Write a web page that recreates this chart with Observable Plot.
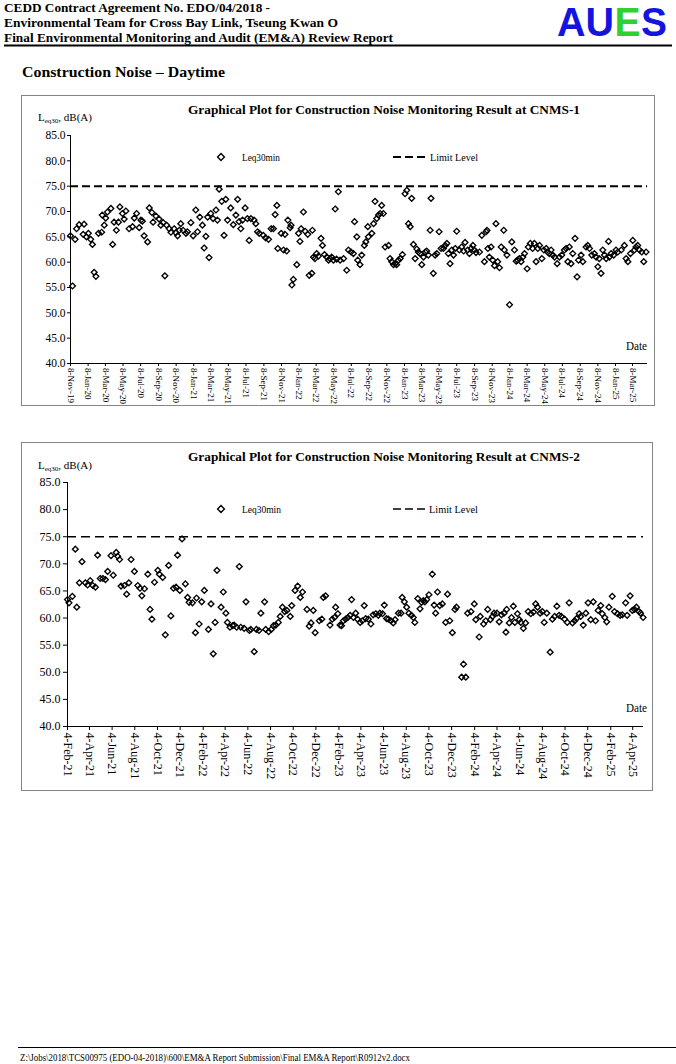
<!DOCTYPE html>
<html><head><meta charset="utf-8">
<script src="https://cdn.jsdelivr.net/npm/d3@7"></script>
<script src="https://cdn.jsdelivr.net/npm/@observablehq/plot@0.6"></script>
<style>
html,body{margin:0;padding:0;background:#fff;}
#page{position:relative;width:676px;height:1064px;overflow:hidden;background:#fff;}
.chart{position:absolute;}
#overlay{position:absolute;left:0;top:0;pointer-events:none;}
</style></head>
<body><div id="page">
<div id="c1" class="chart" style="left:21px;top:95px;"></div>
<div id="c2" class="chart" style="left:21px;top:442px;"></div>
<svg id="overlay" width="676" height="1064" font-family="'Liberation Serif','Times New Roman',serif">
  <text x="4" y="12" font-size="13" font-weight="bold" textLength="266" lengthAdjust="spacingAndGlyphs">CEDD Contract Agreement No. EDO/04/2018 -</text>
  <text x="4" y="27" font-size="13" font-weight="bold" textLength="334" lengthAdjust="spacingAndGlyphs">Environmental Team for Cross Bay Link, Tseung Kwan O</text>
  <text x="4" y="42" font-size="13" font-weight="bold" textLength="389" lengthAdjust="spacingAndGlyphs">Final Environmental Monitoring and Audit (EM&amp;A) Review Report</text>
  <g font-family="'Liberation Sans',Arial,sans-serif" font-size="41" font-weight="bold">
    <text x="557" y="36" fill="#1414e0" textLength="57" lengthAdjust="spacingAndGlyphs">AU</text>
    <text x="614.5" y="36" fill="#2ed12e" textLength="26" lengthAdjust="spacingAndGlyphs">E</text>
    <text x="641" y="36" fill="#1414e0" textLength="26" lengthAdjust="spacingAndGlyphs">S</text>
  </g>
  <line x1="4" x2="672" y1="45.5" y2="45.5" stroke="#000" stroke-width="2"/>
  <text x="22" y="77" font-size="14.5" font-weight="bold" textLength="203" lengthAdjust="spacingAndGlyphs">Construction Noise – Daytime</text>

  <rect x="21.5" y="95.5" width="633" height="310" fill="none" stroke="#858585" stroke-width="1"/>
  <text x="188" y="114" font-size="12.5" font-weight="bold" textLength="392" lengthAdjust="spacingAndGlyphs">Graphical Plot for Construction Noise Monitoring Result at CNMS-1</text>
  <text x="38" y="121" font-size="11">L<tspan font-size="7" dy="2">eq30</tspan><tspan dy="-2">, dB(A)</tspan></text>
  <path d="M221,153.6 L224.4,157 L221,160.4 L217.6,157Z" fill="none" stroke="#000" stroke-width="1.4"/>
  <text x="242" y="160.5" font-size="10.5" textLength="38" lengthAdjust="spacingAndGlyphs">Leq30min</text>
  <line x1="393" x2="428" y1="157" y2="157" stroke="#000" stroke-width="2" stroke-dasharray="8,4"/>
  <text x="430" y="160.5" font-size="10.5" textLength="48" lengthAdjust="spacingAndGlyphs">Limit Level</text>
  <text x="626" y="350" font-size="11.5" textLength="21" lengthAdjust="spacingAndGlyphs">Date</text>

  <rect x="21.5" y="442.5" width="631" height="348" fill="none" stroke="#858585" stroke-width="1"/>
  <text x="188" y="461" font-size="12.5" font-weight="bold" textLength="392" lengthAdjust="spacingAndGlyphs">Graphical Plot for Construction Noise Monitoring Result at CNMS-2</text>
  <text x="38" y="469" font-size="11">L<tspan font-size="7" dy="2">eq30</tspan><tspan dy="-2">, dB(A)</tspan></text>
  <path d="M221,505.6 L224.4,509 L221,512.4 L217.6,509Z" fill="none" stroke="#000" stroke-width="1.4"/>
  <text x="242" y="512.5" font-size="10.5" textLength="39" lengthAdjust="spacingAndGlyphs">Leq30min</text>
  <line x1="393" x2="427" y1="509" y2="509" stroke="#000" stroke-width="1.5" stroke-dasharray="8,4"/>
  <text x="429" y="512.5" font-size="10.5" textLength="49" lengthAdjust="spacingAndGlyphs">Limit Level</text>
  <text x="626" y="712" font-size="11.5" textLength="21" lengthAdjust="spacingAndGlyphs">Date</text>

  <line x1="18" x2="676" y1="1047.5" y2="1047.5" stroke="#000" stroke-width="1.2"/>
  <text x="20" y="1061" font-size="10" textLength="390" lengthAdjust="spacingAndGlyphs">Z:\Jobs\2018\TCS00975 (EDO-04-2018)\600\EM&amp;A Report Submission\Final EM&amp;A Report\R0912v2.docx</text>
</svg>
</div>
<script>
// ---------- data ----------
const limitLevel = 75;
const yTicks = [40, 45, 50, 55, 60, 65, 70, 75, 80, 85];

const cnms1Ticks = ["2019-11-08","2020-01-08","2020-03-08","2020-05-08","2020-07-08","2020-09-08","2020-11-08",
  "2021-01-08","2021-03-08","2021-05-08","2021-07-08","2021-09-08","2021-11-08",
  "2022-01-08","2022-03-08","2022-05-08","2022-07-08","2022-09-08","2022-11-08",
  "2023-01-08","2023-03-08","2023-05-08","2023-07-08","2023-09-08","2023-11-08",
  "2024-01-08","2024-03-08","2024-05-08","2024-07-08","2024-09-08","2024-11-08",
  "2025-01-08","2025-03-08"];
const cnms1Domain = ["2019-11-08", "2025-04-29"];

const cnms2Ticks = ["2021-02-04","2021-04-04","2021-06-04","2021-08-04","2021-10-04","2021-12-04",
  "2022-02-04","2022-04-04","2022-06-04","2022-08-04","2022-10-04","2022-12-04",
  "2023-02-04","2023-04-04","2023-06-04","2023-08-04","2023-10-04","2023-12-04",
  "2024-02-04","2024-04-04","2024-06-04","2024-08-04","2024-10-04","2024-12-04",
  "2025-02-04","2025-04-04"];
const cnms2Domain = ["2021-02-04", "2025-05-03"];

// CNMS-1 Leq30min readings [date, dB(A)]
const cnms1Readings = [
["2019-11-08",65.2],["2019-11-15",55.3],["2019-11-24",64.5],["2019-11-29",66.6],["2019-12-08",67.4],["2019-12-22",65.5],["2019-12-25",67.5],
["2020-01-02",65.0],["2020-01-09",65.7],["2020-01-17",64.5],["2020-01-23",63.5],["2020-01-29",58.0],["2020-02-04",57.2],["2020-02-13",65.7],
["2020-02-24",65.9],["2020-02-26",69.3],["2020-03-04",67.3],["2020-03-09",68.7],["2020-03-15",69.9],["2020-03-27",70.6],["2020-04-02",63.5],
["2020-04-07",67.9],["2020-04-15",66.3],["2020-04-22",67.9],["2020-04-27",70.9],["2020-05-06",69.6],["2020-05-12",68.5],["2020-05-18",70.1],
["2020-05-29",66.6],["2020-06-10",67.0],["2020-06-16",68.7],["2020-06-24",69.6],["2020-07-03",66.8],["2020-07-09",68.3],["2020-07-14",68.1],
["2020-07-20",65.2],["2020-08-01",64.0],["2020-08-07",70.7],["2020-08-16",69.8],["2020-08-20",67.9],["2020-08-30",69.1],["2020-09-10",68.5],
["2020-09-16",67.3],["2020-09-24",67.8],["2020-09-30",57.3],["2020-10-06",67.3],["2020-10-15",66.6],["2020-10-21",65.9],["2020-11-01",66.6],
["2020-11-07",65.8],["2020-11-13",65.2],["2020-11-19",66.3],["2020-11-24",67.6],["2020-12-02",66.3],["2020-12-12",65.7],["2020-12-17",66.0],
["2020-12-29",67.8],["2021-01-06",65.2],["2021-01-15",70.3],["2021-01-21",66.0],["2021-01-29",68.9],["2021-02-07",67.3],["2021-02-13",62.8],
["2021-02-19",65.1],["2021-02-25",68.9],["2021-03-02",60.9],["2021-03-08",69.6],["2021-03-16",68.6],["2021-03-26",70.3],["2021-03-31",68.3],
["2021-04-06",74.4],["2021-04-15",72.0],["2021-04-23",65.3],["2021-04-29",72.4],["2021-05-05",68.3],["2021-05-16",70.7],["2021-05-25",67.4],
["2021-06-03",69.3],["2021-06-09",72.4],["2021-06-14",68.0],["2021-06-20",66.6],["2021-06-26",68.3],["2021-07-05",70.7],["2021-07-13",68.6],
["2021-07-19",64.3],["2021-07-25",68.6],["2021-08-05",68.3],["2021-08-11",67.6],["2021-08-17",66.0],["2021-08-23",65.7],
["2021-09-06",65.3],["2021-09-14",64.8],["2021-09-24",64.5],["2021-10-03",66.6],["2021-10-11",66.6],["2021-10-17",69.4],["2021-10-23",71.2],
["2021-10-26",62.7],["2021-11-07",65.7],["2021-11-15",62.4],["2021-11-20",65.5],["2021-11-26",62.2],["2021-11-30",68.3],["2021-12-08",66.8],
["2021-12-11",67.3],["2021-12-14",55.5],["2021-12-19",56.6],["2021-12-31",59.5],["2022-01-06",65.7],["2022-01-11",64.1],["2022-01-15",66.6],
["2022-01-23",69.9],["2022-01-29",66.1],["2022-02-07",65.5],["2022-02-12",57.4],["2022-02-21",57.8],["2022-02-23",66.3],["2022-02-27",61.0],
["2022-03-04",60.7],["2022-03-10",61.7],["2022-03-16",61.2],["2022-03-25",64.7],["2022-03-30",63.3],["2022-04-06",61.5],["2022-04-14",61.0],
["2022-04-20",60.4],["2022-04-25",60.7],["2022-05-01",61.0],["2022-05-07",60.4],["2022-05-13",70.5],["2022-05-18",60.6],["2022-05-24",73.9],
["2022-05-30",60.4],["2022-06-11",60.7],["2022-06-22",58.4],["2022-06-28",62.4],["2022-07-07",62.0],["2022-07-15",61.7],["2022-07-19",68.0],
["2022-07-27",65.0],["2022-07-30",60.4],["2022-08-07",59.5],["2022-08-13",61.4],["2022-08-22",63.3],["2022-08-27",64.0],["2022-09-03",67.0],
["2022-09-05",65.0],["2022-09-17",65.7],["2022-09-23",67.6],["2022-09-28",72.0],["2022-10-04",68.6],["2022-10-10",69.3],["2022-10-16",69.6],
["2022-10-21",71.2],["2022-10-27",69.6],["2022-11-02",63.0],["2022-11-14",63.3],["2022-11-19",60.7],["2022-11-25",60.1],["2022-12-01",59.5],
["2022-12-07",59.7],["2022-12-12",59.5],["2022-12-18",60.4],["2022-12-24",60.7],["2023-01-01",61.5],["2023-01-10",73.5],["2023-01-16",74.2],
["2023-01-22",67.6],["2023-01-28",67.0],["2023-02-02",72.6],["2023-02-08",63.5],["2023-02-14",60.7],["2023-02-20",62.6],["2023-02-25",62.0],
["2023-03-03",61.7],["2023-03-09",59.5],["2023-03-15",61.0],["2023-03-21",62.0],["2023-03-26",62.2],["2023-04-01",61.4],["2023-04-07",66.3],
["2023-04-10",72.6],["2023-04-18",57.8],["2023-04-24",61.4],["2023-04-30",61.7],["2023-05-08",66.0],["2023-05-15",62.7],["2023-05-23",62.7],
["2023-05-29",63.3],["2023-06-04",63.7],["2023-06-09",61.7],["2023-06-15",59.7],["2023-06-21",62.4],["2023-06-27",61.4],["2023-07-03",62.7],
["2023-07-08",66.1],["2023-07-17",62.4],["2023-07-25",63.0],["2023-08-01",62.2],["2023-08-06",63.9],["2023-08-15",62.4],["2023-08-21",61.7],
["2023-08-27",62.7],["2023-09-02",63.3],["2023-09-07",62.4],["2023-09-13",61.9],["2023-09-25",62.0],["2023-10-03",65.3],["2023-10-12",60.1],
["2023-10-18",66.0],["2023-10-21",66.3],["2023-10-24",62.7],["2023-10-29",61.0],["2023-11-04",63.0],["2023-11-10",60.4],["2023-11-16",59.3],
["2023-11-21",67.6],["2023-11-27",60.1],["2023-12-03",58.9],["2023-12-09",63.0],["2023-12-18",66.3],["2023-12-20",62.4],["2023-12-29",61.4],
["2024-01-07",51.6],["2024-01-15",64.0],["2024-01-24",62.4],["2024-01-30",60.2],["2024-02-04",60.4],["2024-02-10",60.7],["2024-02-16",60.1],
["2024-02-22",61.0],["2024-02-28",61.7],["2024-03-08",58.7],["2024-03-12",63.0],["2024-03-19",63.7],["2024-03-27",62.7],["2024-04-02",63.7],
["2024-04-08",60.1],["2024-04-14",62.7],["2024-04-20",63.3],["2024-04-28",60.7],["2024-05-05",62.4],["2024-05-13",62.7],["2024-05-18",62.0],
["2024-05-24",61.7],["2024-05-30",62.4],["2024-06-05",61.4],["2024-06-11",61.0],["2024-06-20",59.7],["2024-06-28",61.0],["2024-07-06",61.4],
["2024-07-15",62.4],["2024-07-21",62.7],["2024-07-27",60.1],["2024-08-01",63.0],["2024-08-07",59.7],["2024-08-13",61.7],["2024-08-21",64.7],
["2024-08-28",57.1],["2024-09-02",60.4],["2024-09-11",61.4],["2024-09-17",60.1],["2024-09-28",63.0],["2024-10-04",63.3],["2024-10-10",62.7],
["2024-10-18",61.4],["2024-10-27",61.7],["2024-11-02",61.0],["2024-11-08",59.1],["2024-11-13",60.7],["2024-11-19",57.8],["2024-11-25",62.4],
["2024-12-01",61.4],["2024-12-07",60.7],["2024-12-15",64.1],["2024-12-18",61.0],["2024-12-24",61.7],["2025-01-02",61.4],["2025-01-10",62.4],
["2025-01-16",62.0],["2025-01-28",62.4],["2025-02-08",63.3],["2025-02-14",60.7],["2025-02-20",60.1],["2025-03-01",61.7],["2025-03-09",64.3],
["2025-03-15",62.4],["2025-03-20",63.0],["2025-03-26",63.3],["2025-04-01",62.4],["2025-04-09",62.0],["2025-04-16",60.1],["2025-04-24",62.0]
];

// CNMS-2 Leq30min readings [date, dB(A)]
const cnms2Readings = [
["2021-02-04",63.4],["2021-02-08",62.8],["2021-02-17",64.0],["2021-02-25",72.7],["2021-03-01",62.0],["2021-03-08",66.5],["2021-03-15",70.4],
["2021-03-24",66.5],["2021-03-30",66.1],["2021-04-06",66.9],["2021-04-13",66.0],["2021-04-20",65.7],["2021-04-26",71.6],["2021-05-03",67.3],
["2021-05-10",67.3],["2021-05-17",67.1],["2021-05-23",68.6],["2021-06-01",71.5],["2021-06-07",67.9],["2021-06-15",72.1],["2021-06-19",71.4],
["2021-06-24",70.8],["2021-06-28",65.9],["2021-07-07",66.0],["2021-07-13",64.4],["2021-07-19",66.5],["2021-07-25",70.8],["2021-08-03",68.6],
["2021-08-12",66.0],["2021-08-18",65.5],["2021-08-23",64.1],["2021-08-30",65.4],["2021-09-08",68.1],["2021-09-14",61.6],["2021-09-19",59.8],
["2021-09-26",66.6],["2021-10-05",68.8],["2021-10-09",68.1],["2021-10-18",67.5],["2021-10-25",56.9],["2021-11-03",69.7],["2021-11-09",60.4],
["2021-11-16",65.5],["2021-11-23",65.7],["2021-11-27",71.6],["2021-12-03",65.1],["2021-12-09",74.6],["2021-12-18",66.3],["2021-12-24",63.8],
["2021-12-28",62.9],["2022-01-06",62.8],["2022-01-14",57.3],["2022-01-17",63.7],["2022-01-24",58.9],["2022-01-31",63.0],["2022-02-07",65.1],
["2022-02-18",57.9],["2022-02-25",62.6],["2022-03-03",53.4],["2022-03-08",59.2],["2022-03-13",68.8],["2022-03-24",62.0],["2022-03-30",64.8],
["2022-04-06",60.9],["2022-04-10",59.2],["2022-04-17",58.3],["2022-04-24",58.6],["2022-04-28",58.7],["2022-05-05",58.3],["2022-05-12",69.5],
["2022-05-16",58.3],["2022-05-25",58.1],["2022-05-30",63.0],["2022-06-08",57.7],["2022-06-12",57.9],["2022-06-21",53.8],["2022-06-27",57.9],
["2022-07-04",57.7],["2022-07-09",60.9],["2022-07-19",63.0],["2022-07-22",57.9],["2022-07-30",57.5],["2022-08-06",57.9],["2022-08-12",58.6],
["2022-08-18",58.7],["2022-08-25",59.2],["2022-08-30",60.3],["2022-09-05",62.0],["2022-09-11",61.2],["2022-09-17",61.4],["2022-09-26",60.3],
["2022-09-30",62.3],["2022-10-09",65.1],["2022-10-16",65.9],["2022-10-23",63.8],["2022-10-29",64.8],["2022-11-10",61.6],["2022-11-16",58.5],
["2022-11-21",59.1],["2022-11-27",61.4],["2022-12-02",57.3],["2022-12-13",59.5],["2022-12-20",59.8],["2022-12-24",63.8],["2022-12-30",64.1],
["2023-01-11",58.7],["2023-01-17",59.8],["2023-01-23",60.1],["2023-01-26",62.0],["2023-02-01",60.8],["2023-02-07",58.7],["2023-02-11",58.6],
["2023-02-16",59.5],["2023-02-22",59.8],["2023-02-28",60.1],["2023-03-06",60.5],["2023-03-10",63.4],["2023-03-15",60.1],["2023-03-21",60.9],
["2023-03-26",59.8],["2023-04-02",59.2],["2023-04-08",59.5],["2023-04-13",62.3],["2023-04-17",59.9],["2023-04-24",59.8],["2023-05-01",58.9],
["2023-05-07",60.6],["2023-05-14",60.8],["2023-05-21",60.5],["2023-05-25",60.9],["2023-06-01",60.8],["2023-06-06",62.4],["2023-06-12",59.9],
["2023-06-17",59.8],["2023-06-24",59.5],["2023-06-30",59.1],["2023-07-05",59.7],["2023-07-14",60.9],["2023-07-21",60.9],["2023-07-24",63.8],
["2023-07-30",63.0],["2023-08-05",62.0],["2023-08-11",60.9],["2023-08-18",60.5],["2023-08-23",60.1],["2023-08-27",59.2],["2023-09-04",63.6],
["2023-09-10",61.7],["2023-09-14",62.9],["2023-09-19",63.2],["2023-09-23",63.0],["2023-09-28",63.4],["2023-10-04",64.3],["2023-10-13",68.1],
["2023-10-18",62.4],["2023-10-22",60.9],["2023-10-27",64.8],["2023-11-02",62.3],["2023-11-09",62.6],["2023-11-18",59.2],["2023-11-23",64.4],
["2023-11-29",59.5],["2023-12-06",57.3],["2023-12-13",61.6],["2023-12-17",62.0],["2023-12-31",49.1],["2024-01-05",51.5],["2024-01-11",49.1],
["2024-01-16",60.9],["2024-01-25",61.2],["2024-02-03",62.6],["2024-02-07",59.7],["2024-02-16",56.5],["2024-02-19",60.3],["2024-02-28",58.9],
["2024-03-05",59.5],["2024-03-10",61.6],["2024-03-17",59.7],["2024-03-23",60.3],["2024-03-27",60.9],["2024-04-04",60.9],["2024-04-10",59.3],
["2024-04-16",60.6],["2024-04-23",60.9],["2024-04-28",57.4],["2024-04-30",61.6],["2024-05-07",59.1],["2024-05-13",60.1],["2024-05-18",62.2],
["2024-05-22",59.2],["2024-05-29",60.8],["2024-06-03",59.7],["2024-06-07",59.2],["2024-06-14",58.1],["2024-06-20",59.1],["2024-06-27",61.2],
["2024-07-04",60.8],["2024-07-11",61.1],["2024-07-17",62.6],["2024-07-22",62.0],["2024-07-29",60.9],["2024-08-04",61.2],["2024-08-09",59.2],
["2024-08-16",60.9],["2024-08-25",53.7],["2024-08-31",59.8],["2024-09-06",60.3],["2024-09-12",62.2],["2024-09-18",60.5],["2024-09-24",60.3],
["2024-10-03",59.8],["2024-10-10",59.2],["2024-10-15",62.8],["2024-10-24",59.1],["2024-10-30",59.5],["2024-11-04",59.9],["2024-11-11",60.8],
["2024-11-15",60.3],["2024-11-22",58.7],["2024-11-29",60.9],["2024-12-05",62.8],["2024-12-12",59.7],["2024-12-19",63.0],["2024-12-25",59.5],
["2025-01-01",61.4],["2025-01-08",62.3],["2025-01-12",60.8],["2025-01-19",60.1],["2025-01-24",59.3],["2025-01-30",62.0],["2025-02-08",64.0],
["2025-02-14",61.2],["2025-02-22",60.8],["2025-03-01",60.5],["2025-03-07",60.6],["2025-03-16",62.8],["2025-03-20",60.5],["2025-03-28",64.1],
["2025-04-03",61.4],["2025-04-09",61.6],["2025-04-14",62.0],["2025-04-21",61.2],["2025-04-25",60.9],["2025-05-02",60.1]
];

// ---------- drawing ----------
const fmt = d3.utcFormat("%-d-%b-%y");
const serif = '"Liberation Serif","Times New Roman",serif';

function drawChart(el, cfg) {
  const data = cfg.readings.map(([d, v]) => ({date: new Date(d), value: v}));
  const domain = cfg.domain.map(d => new Date(d));
  const svg = Plot.plot({
    width: cfg.width, height: cfg.height,
    marginLeft: cfg.ml, marginRight: cfg.mr, marginTop: cfg.mt, marginBottom: cfg.mb,
    style: {fontFamily: serif, color: "#000", background: "transparent", overflow: "visible"},
    x: {type: "utc", domain},
    y: {domain: [40, 85]},
    marks: [
      Plot.ruleY([limitLevel], {stroke: "#000", strokeWidth: cfg.dashW, strokeDasharray: cfg.dash}),
      Plot.ruleX([domain[0]], {stroke: "#000", strokeWidth: 1}),
      Plot.ruleY([40], {stroke: "#000", strokeWidth: 1}),
      Plot.axisY({ticks: yTicks, tickFormat: d => d.toFixed(1), tickSize: cfg.yTick, tickPadding: cfg.yPad, fontSize: cfg.yFont, label: null}),
      Plot.axisX({ticks: cfg.ticks.map(d => new Date(d)), tickFormat: fmt, tickRotate: 90, tickSize: cfg.xTick, tickPadding: cfg.xPad, fontSize: cfg.xFont, label: null}),
      Plot.dot(data, {x: "date", y: "value", symbol: "diamond2", r: 2.6, stroke: "#000", strokeWidth: 1.35, fill: "none"})
    ]
  });
  el.appendChild(svg);
}

drawChart(document.getElementById("c1"), {
  readings: cnms1Readings, ticks: cnms1Ticks, domain: cnms1Domain,
  width: 634, height: 310, ml: 49, mr: 8, mt: 40, mb: 42,
  yFont: 11.5, xFont: 9, yTick: 3, yPad: 2, xTick: 3, xPad: 1.5, dashW: 2, dash: "8,4"
});
drawChart(document.getElementById("c2"), {
  readings: cnms2Readings, ticks: cnms2Ticks, domain: cnms2Domain,
  width: 632, height: 348, ml: 46, mr: 10, mt: 40, mb: 64,
  yFont: 12, xFont: 12, yTick: 4, yPad: 3, xTick: 4, xPad: 2, dashW: 1.5, dash: "9,5"
});
</script>
</body></html>
